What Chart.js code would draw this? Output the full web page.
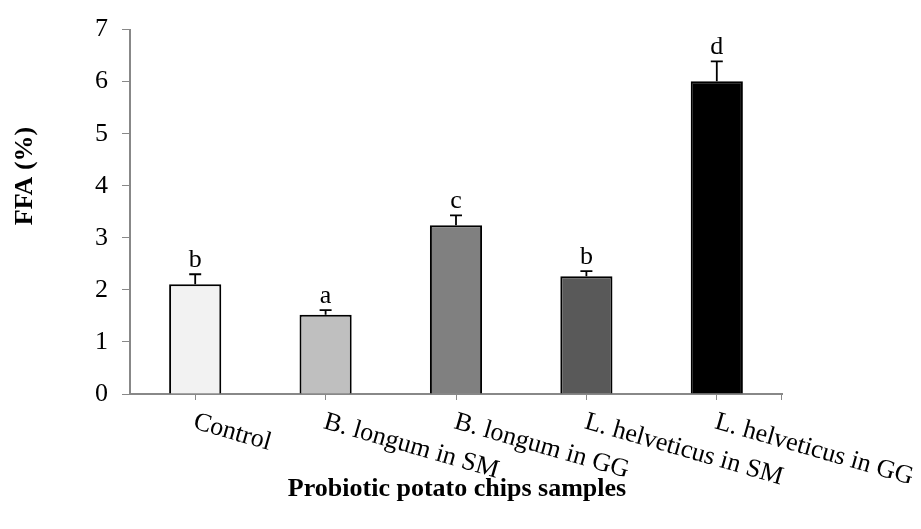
<!DOCTYPE html>
<html>
<head>
<meta charset="utf-8">
<script src="https://cdn.jsdelivr.net/npm/chart.js@4/dist/chart.umd.min.js"></script>
<style>
  html, body { margin: 0; padding: 0; background: #fff; }
  #wrap { width: 921px; height: 529px; position: relative; }
</style>
</head>
<body>
<div id="wrap"><canvas id="ffa-chart"></canvas></div>
<script>
// Chart data
const sampleNames = ['Control', 'B. longum in SM', 'B. longum in GG', 'L. helveticus in SM', 'L. helveticus in GG'];
const ffaValues = [2.11, 1.52, 3.24, 2.26, 6.01];
const ffaErrors = [0.19, 0.09, 0.19, 0.10, 0.38];
const sigLetters = ['b', 'a', 'c', 'b', 'd'];
const barColors = ['#f2f2f2', '#bfbfbf', '#808080', '#595959', '#000000'];
const yTickValues = [0, 1, 2, 3, 4, 5, 6, 7];

const serif = '"Liberation Serif", "Times New Roman", serif';

// Error bars, letters, slanted category labels and axis titles
const annotatePlugin = {
  id: 'annotate',
  afterDatasetsDraw(chart) {
    const ctx = chart.ctx;
    const meta = chart.getDatasetMeta(0);
    const yScale = chart.scales.y;
    const xScale = chart.scales.x;

    ctx.save();
    ctx.strokeStyle = '#000';
    ctx.lineWidth = 1.8;
    ctx.fillStyle = '#000';
    ctx.font = '26px ' + serif;
    ctx.textAlign = 'center';
    ctx.textBaseline = 'alphabetic';
    meta.data.forEach((bar, i) => {
      const top = yScale.getPixelForValue(ffaValues[i] + ffaErrors[i]);
      const x = bar.x;
      ctx.beginPath();
      ctx.moveTo(x, bar.y);
      ctx.lineTo(x, top);
      ctx.moveTo(x - 6, top);
      ctx.lineTo(x + 6, top);
      ctx.stroke();
      ctx.fillText(sigLetters[i], x, top - 7);
    });

    // small tick at the right end of the x axis
    ctx.strokeStyle = '#888';
    ctx.lineWidth = 1;
    ctx.beginPath();
    ctx.moveTo(xScale.right - 0.5, yScale.bottom);
    ctx.lineTo(xScale.right - 0.5, yScale.bottom + 6);
    ctx.stroke();

    // category labels, slanted down to the right
    ctx.textAlign = 'left';
    ctx.textBaseline = 'alphabetic';
    sampleNames.forEach((name, i) => {
      const x = xScale.getPixelForValue(i);
      ctx.save();
      ctx.translate(x - 3, yScale.bottom + 34);
      ctx.rotate(16 * Math.PI / 180);
      ctx.fillText(name, 0, 0);
      ctx.restore();
    });

    // axis titles
    ctx.font = 'bold 26px ' + serif;
    ctx.textAlign = 'center';
    ctx.textBaseline = 'middle';
    ctx.fillText('Probiotic potato chips samples', 457, 489);
    ctx.save();
    ctx.translate(25, 176);
    ctx.rotate(-Math.PI / 2);
    ctx.fillText('FFA (%)', 0, 0);
    ctx.restore();
    ctx.restore();
  }
};

const ffaChart = new Chart(document.getElementById('ffa-chart').getContext('2d'), {
  type: 'bar',
  data: {
    labels: sampleNames,
    datasets: [{
      data: ffaValues,
      backgroundColor: barColors,
      borderColor: '#000',
      borderWidth: 2,
      categoryPercentage: 1,
      barPercentage: 0.4
    }]
  },
  options: {
    responsive: true,
    maintainAspectRatio: false,
    animation: false,
    layout: { padding: { top: 23, right: 139, left: 0, bottom: 0 } },
    plugins: {
      legend: { display: false },
      tooltip: { enabled: false }
    },
    scales: {
      x: {
        grid: {
          display: true,
          drawOnChartArea: false,
          drawTicks: true,
          tickLength: 6,
          offset: false,
          color: '#888'
        },
        border: { display: true, color: '#888', width: 2 },
        ticks: { display: false },
        afterFit(scale) { scale.height = 135; }
      },
      y: {
        min: 0,
        max: 7,
        afterBuildTicks(scale) { scale.ticks = yTickValues.map(v => ({ value: v })); },
        grid: {
          display: true,
          drawOnChartArea: false,
          drawTicks: true,
          tickLength: 8,
          color: '#888'
        },
        border: { display: true, color: '#888', width: 2 },
        ticks: {
          color: '#000',
          padding: 14,
          font: { family: serif, size: 26 }
        },
        afterFit(scale) { scale.width = 130; }
      }
    }
  },
  plugins: [annotatePlugin]
});
</script>
</body>
</html>
